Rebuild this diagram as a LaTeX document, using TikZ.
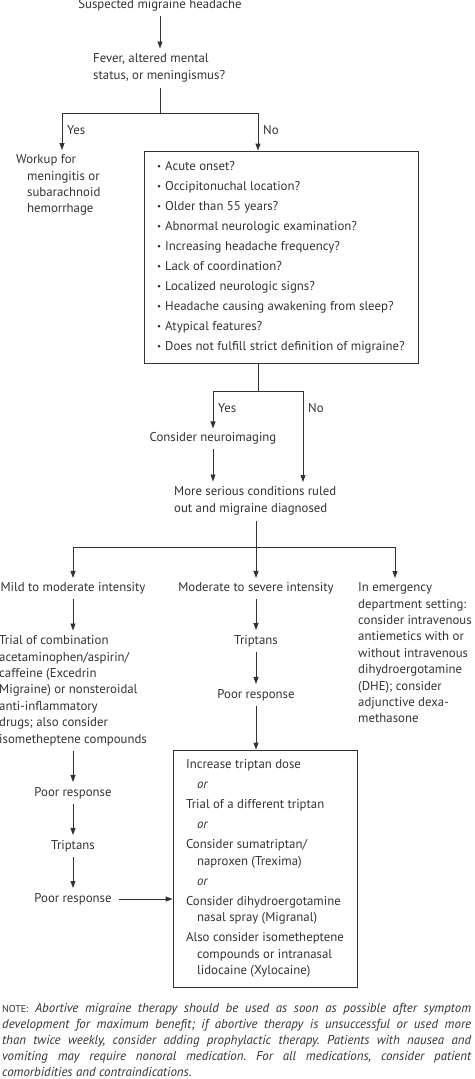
\documentclass[tikz,border=0pt]{standalone}
\usepackage{fontspec}
\setmainfont{PT Sans}
\usepackage{xcolor}
\usepackage{tikz}
\usetikzlibrary{arrows.meta}
\definecolor{ink}{HTML}{333333}
\newcommand{\rf}[1]{\makebox[8pt][l]{\small\raisebox{0.5pt}{•}}#1}
\newcommand{\ind}{\hspace*{11pt}}
\tikzset{
  txt/.style={inner sep=0pt, text=ink, font=\fontsize{12.8}{16.4}\selectfont},
  lft/.style={txt, align=left, anchor=north west},
  boxed/.style={txt, draw=ink, line width=0.8pt, align=left},
  ln/.style={draw=ink, line width=0.8pt},
  arr/.style={ln, -{Triangle[length=7pt,width=5pt]}},
  gap/.style={shorten <=5pt, shorten >=5pt}
}
\begin{document}
\frenchspacing
\begin{tikzpicture}[x=1pt,y=-1pt]
\useasboundingbox (0,0) rectangle (474,1079);
\node[txt] (susp) at (160,5) {Suspected migraine headache};
\node[lft] (fever) at (93,53.5) {Fever, altered mental\\status, or meningismus?};
\draw[arr, gap] (susp.south -| 160,0) -- (fever.north -| 160,0);
\node[lft] (workup) at (16,154.5) {Workup for\\\ind meningitis or\\\ind subarachnoid\\\ind hemorrhage};
\node[boxed, minimum width=274pt, minimum height=212pt] (flags) at (281,257) {\rf{Acute onset?}\\[3.6pt]
\rf{Occipitonuchal location?}\\[3.6pt]
\rf{Older than 55 years?}\\[3.6pt]
\rf{Abnormal neurologic examination?}\\[3.6pt]
\rf{Increasing headache frequency?}\\[3.6pt]
\rf{Lack of coordination?}\\[3.6pt]
\rf{Localized neurologic signs?}\\[3.6pt]
\rf{Headache causing awakening from sleep?}\\[3.6pt]
\rf{Atypical features?}\\[3.6pt]
\rf{Does not fulfill strict definition of migraine?}};
\coordinate (s1) at (160,113);
\coordinate (s1l) at (62,113);
\coordinate (s1r) at (258,113);
\draw[ln] ([yshift=-6pt]fever.south -| s1) -- (s1);
\draw[ln] (s1l) -- (s1r);
\draw[arr, shorten >=4.5pt] (s1l) -- (s1l |- workup.north);
\draw[arr] (s1r) -- (s1r |- flags.north);
\node[txt, anchor=west] (yes1) at (67,130) {Yes};
\node[txt, anchor=west] (no1) at (263,130) {No};
\coordinate (s2) at (258,391);
\coordinate (s2l) at (213,391);
\coordinate (s2r) at (303,391);
\draw[ln] (flags.south -| s2) -- (s2);
\draw[ln] (s2l) -- (s2r);
\node[txt, anchor=west] (yes2) at (218,408) {Yes};
\node[txt, anchor=west] (no2) at (308,408) {No};
\node[txt] (neuro) at (213,438) {Consider neuroimaging};
\draw[arr, shorten >=3.5pt] (s2l) -- (neuro.north);
\node[lft] (ruled) at (174,486.5) {More serious conditions ruled\\out and migraine diagnosed};
\draw[arr, gap] (neuro.south) -- (neuro.south |- ruled.north);
\draw[arr, shorten >=4.5pt] (s2r) -- (s2r |- ruled.north);
\coordinate (s3) at (256,547);
\coordinate (s3l) at (73,547);
\coordinate (s3r) at (395,547);
\draw[ln] ([yshift=-6pt]ruled.south -| s3) -- (s3);
\draw[ln] (s3l) -- (s3r);
\node[txt] (mild) at (73,588) {Mild to moderate intensity};
\node[txt] (severe) at (256,588) {Moderate to severe intensity};
\node[lft] (emerg) at (358,582.5) {In emergency\\department setting:\\consider intravenous\\antiemetics with or\\without intravenous\\dihydroergotamine\\(DHE); consider\\adjunctive dexa-\\methasone};
\draw[arr, shorten >=4pt] (s3l) -- (mild.north);
\draw[arr, shorten >=4pt] (s3) -- (severe.north);
\draw[arr, shorten >=4.5pt] (s3r) -- (s3r |- emerg.north);
\node[lft] (trial) at (-1,635.5) {Trial of combination\\acetaminophen/aspirin/\\caffeine (Excedrin\\Migraine) or nonsteroidal\\anti-inflammatory\\drugs; also consider\\isometheptene compounds};
\draw[arr, gap] (mild.south) -- (mild.south |- trial.north);
\node[txt] (trip1) at (256,641) {Triptans};
\node[txt] (poor1) at (256,695) {Poor response};
\draw[arr, gap] (severe) -- (trip1);
\draw[arr, gap] (trip1) -- (poor1);
\node[boxed, minimum width=184pt, minimum height=237pt] (opts) at (265,868.5) {Increase triptan dose\\[3.6pt]
\ind\textit{or}\\[3.6pt]
Trial of a different triptan\\[3.6pt]
\ind\textit{or}\\[3.6pt]
Consider sumatriptan/\\
\ind naproxen (Trexima)\\[3.6pt]
\ind\textit{or}\\[3.6pt]
Consider dihydroergotamine\\
\ind nasal spray (Migranal)\\[3.6pt]
Also consider isometheptene\\
\ind compounds or intranasal\\
\ind lidocaine (Xylocaine)};
\draw[arr, shorten <=5pt] (poor1.south) -- (poor1.south |- opts.north);
\node[txt] (poor2) at (73,793) {Poor response};
\node[txt] (trip2) at (73,846) {Triptans};
\node[txt] (poor3) at (73,899) {Poor response};
\draw[arr, gap] (poor2 |- trial.south) -- (poor2.north);
\draw[arr, gap] (poor2) -- (trip2);
\draw[arr, gap] (trip2) -- (poor3);
\draw[arr, shorten <=7pt] (poor3.east) -- (poor3.east -| opts.west);
\node[txt, anchor=north west, text width=469pt, align=justify, font=\fontsize{12.9}{16}\selectfont\itshape] (note) at (2,1003.5) {{\upshape\fontsize{10}{16}\selectfont NOTE:} Abortive migraine therapy should be used as soon as possible after symptom\linebreak development for maximum benefit; if abortive therapy is unsuccessful or used more\linebreak than twice weekly, consider adding prophylactic therapy. Patients with nausea and\linebreak vomiting may require nonoral medication. For all medications, consider patient\linebreak comorbidities and contraindications.};
\end{tikzpicture}
\end{document}
